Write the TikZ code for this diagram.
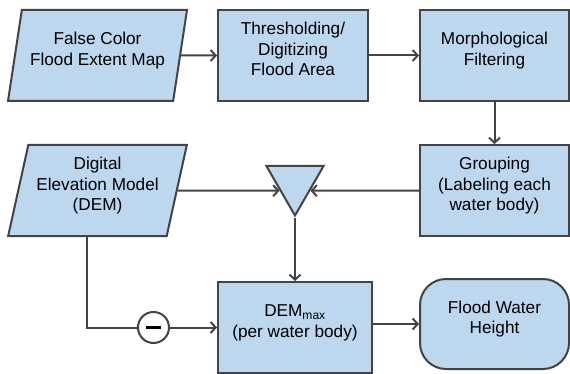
\documentclass[tikz,border=0pt]{standalone}
\usepackage{fontspec}
\setmainfont{Liberation Sans}
\usetikzlibrary{arrows.meta,shapes.geometric,positioning}

\definecolor{boxblue}{HTML}{BDD7EE}
\definecolor{linegray}{HTML}{434343}
\newcommand{\flowfont}{\fontsize{17.2}{20.5}\selectfont}

\begin{document}
\begin{tikzpicture}[x=1pt,y=-1pt,
    >={Straight Barb[length=5pt,width=11pt]},
    blockbox/.style={rectangle,draw=linegray,fill=boxblue,line width=2pt,
      minimum width=150pt,minimum height=91pt,inner sep=0pt,align=center,
      font=\flowfont,text depth=13pt},
    inputbox/.style={blockbox,trapezium,trapezium left angle=75,trapezium right angle=105,
      trapezium stretches=true,minimum width=179pt},
    endbox/.style={blockbox,rounded corners=26pt,minimum width=149pt,minimum height=90pt},
    mergetri/.style={regular polygon,regular polygon sides=3,shape border rotate=180,
      draw=linegray,fill=boxblue,line width=2pt,minimum size=66pt,inner sep=0pt},
    subtract/.style={circle,draw=linegray,fill=white,line width=2pt,minimum size=31pt,inner sep=0pt},
    flow/.style={->,draw=linegray,line width=2pt},
    plain/.style={draw=linegray,line width=2pt}]
  \useasboundingbox (0,0) rectangle (570,374);

  \node[inputbox] (fcmap) at (97.5,55.5) {False Color\\Flood Extent Map};
  \node[blockbox] (thresh) at (293,55.5) {Thresholding/\\Digitizing\\Flood Area};
  \node[blockbox,minimum width=149pt] (morph) at (494.5,55.5) {Morphological\\Filtering};
  \node[blockbox,minimum width=149pt] (group) at (494.5,190.5) {Grouping\\(Labeling each\\water body)};
  \node[inputbox] (dem) at (97.5,190.5) {Digital\\Elevation Model\\(DEM)};
  \node[mergetri] (merge) at (295,182.5) {};
  \node[blockbox,minimum width=154pt] (demmax) at (295,327.5) {DEM\textsubscript{max}\\(per water body)};
  \node[subtract] (minus) at (153.5,327.5) {\rule{15pt}{2.4pt}};
  \node[endbox] (height) at (494.5,324) {Flood Water\\Height};

  % top row
  \draw[flow] (fcmap.east) -- (thresh.west);
  \draw[flow] (thresh) -- (morph);
  \draw[flow] (morph) -- (group);
  % into the merge
  \draw[flow] (dem.east) -- (merge.208);
  \draw[flow] (group.west) -- (merge.-28);
  \draw[flow] (merge.south) -- (demmax.north);
  % DEM minus
  \draw[plain] (dem.bottom side) |- (minus.west);
  \draw[flow] (minus) -- (demmax);
  \draw[flow] (demmax.east |- height.west) -- (height.west);
\end{tikzpicture}
\end{document}
